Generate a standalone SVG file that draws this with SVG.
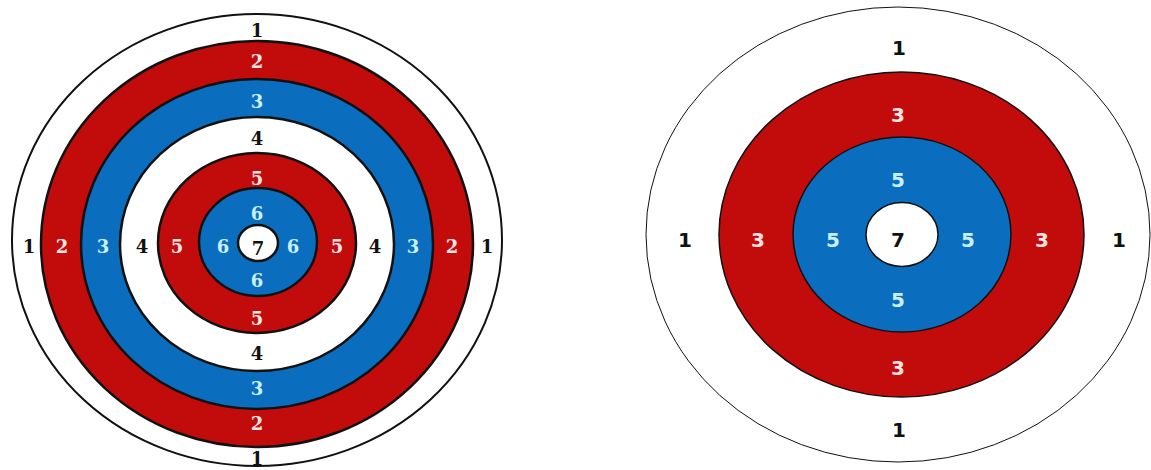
<svg xmlns="http://www.w3.org/2000/svg" width="1151" height="470" viewBox="0 0 1151 470">
<style>
.r{fill:#c20b0b}
.b{fill:#0b6dbd}
.w{fill:#ffffff}
.L ellipse{stroke:#111;stroke-width:2.5}
.R ellipse{stroke:#111;stroke-width:1.5}
.L text{font-family:"DejaVu Serif",serif;font-weight:bold;font-size:18px;text-anchor:middle}
.R text{font-family:"DejaVu Sans",sans-serif;font-weight:bold;font-size:20px;text-anchor:middle}
.k{fill:#111}
.p{fill:#fbe4e4}
.c{fill:#c9f0ff}
</style>
<rect width="1151" height="470" fill="#fff"/>
<g id="target-left" class="L">
<ellipse cx="257" cy="240" rx="245" ry="226" class="w" style="stroke-width:2"/>
<ellipse cx="257" cy="244" rx="216" ry="203" class="r"/>
<ellipse cx="257" cy="244" rx="176" ry="165" class="b"/>
<ellipse cx="257" cy="244" rx="137" ry="127" class="w"/>
<ellipse cx="257" cy="243" rx="99" ry="90" class="r"/>
<ellipse cx="258" cy="242" rx="59" ry="54" class="b"/>
<ellipse cx="258" cy="243" rx="20" ry="18" class="w"/>
<text x="257" y="37" class="k">1</text>
<text x="257" y="68" class="p">2</text>
<text x="257" y="108" class="c">3</text>
<text x="257" y="145" class="k">4</text>
<text x="257" y="185" class="p">5</text>
<text x="257" y="220" class="c">6</text>
<text x="29" y="253" class="k">1</text>
<text x="62" y="253" class="p">2</text>
<text x="103" y="253" class="c">3</text>
<text x="142" y="253" class="k">4</text>
<text x="177" y="253" class="p">5</text>
<text x="223" y="253" class="c">6</text>
<text x="258" y="255" class="k">7</text>
<text x="293" y="253" class="c">6</text>
<text x="337" y="253" class="p">5</text>
<text x="375" y="253" class="k">4</text>
<text x="413" y="253" class="c">3</text>
<text x="452" y="253" class="p">2</text>
<text x="487" y="253" class="k">1</text>
<text x="257" y="287" class="c">6</text>
<text x="257" y="325" class="p">5</text>
<text x="257" y="360" class="k">4</text>
<text x="257" y="395" class="c">3</text>
<text x="257" y="430" class="p">2</text>
<text x="257" y="465" class="k">1</text>
</g>
<g id="target-right" class="R">
<ellipse cx="898" cy="234.5" rx="252" ry="227.5" class="w" style="stroke-width:1"/>
<ellipse cx="901.5" cy="234.5" rx="182.5" ry="162.5" class="r"/>
<ellipse cx="902" cy="234.5" rx="109" ry="97.5" class="b"/>
<ellipse cx="902" cy="234.5" rx="36" ry="32" class="w"/>
<text x="899" y="55" class="k">1</text>
<text x="898" y="122" class="p">3</text>
<text x="898" y="187" class="c">5</text>
<text x="685" y="247" class="k">1</text>
<text x="758" y="247" class="p">3</text>
<text x="833" y="247" class="c">5</text>
<text x="898" y="247" class="k">7</text>
<text x="968" y="247" class="c">5</text>
<text x="1042" y="247" class="p">3</text>
<text x="1119" y="247" class="k">1</text>
<text x="898" y="307" class="c">5</text>
<text x="898" y="375" class="p">3</text>
<text x="899" y="437" class="k">1</text>
</g>
<g id="connectors"></g>
</svg>
